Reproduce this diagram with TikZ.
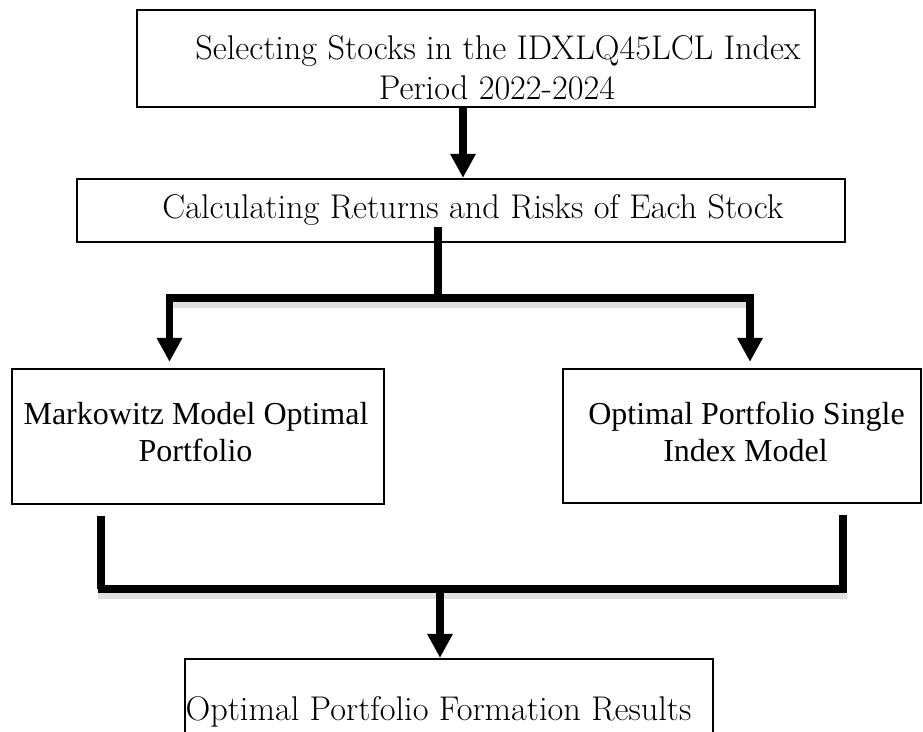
\documentclass[tikz,border=0pt]{standalone}
\usepackage{fontspec}
\newfontfamily\timesf{Liberation Serif}
\usetikzlibrary{arrows.meta}
\begin{document}
\begin{tikzpicture}[x=1pt,y=-1pt,
  box/.style={draw,line width=2.2pt,inner sep=0pt},
  pal/.style={font=\fontsize{34.3}{40}\selectfont,inner sep=0pt,anchor=base},
  tim/.style={font=\timesf\fontsize{32}{37}\selectfont,inner sep=0pt,anchor=base},
  conn/.style={line width=7.5pt},
  bar/.style={line width=8pt},
  shade/.style={line width=10pt,black!12},
  arr/.style={line width=7.5pt,-{Triangle[width=24pt,length=24pt]}}]
\useasboundingbox (0,0) rectangle (923,731);
\clip (0,0) rectangle (923,731);
% boxes
\node[box,minimum width=678pt,minimum height=97pt] (b1) at (476,58.5) {};
\node[box,minimum width=768pt,minimum height=63pt] (b2) at (461,210.5) {};
\node[box,minimum width=372pt,minimum height=135pt] (b3) at (198,436.5) {};
\node[box,minimum width=358pt,minimum height=134pt] (b4) at (742,436) {};
\node[box,minimum width=528pt,minimum height=101pt] (b5) at (449,709.5) {};
% texts
\node[pal] (t1a) at (498,59) {Selecting Stocks in the IDXLQ45LCL Index};
\node[pal] (t1b) at (497,99) {Period 2022-2024};
\node[pal] (t2) at (473,218) {Calculating Returns and Risks of Each Stock};
\node[tim] (t3a) at (196,424) {Markowitz Model Optimal};
\node[tim] (t3b) at (195.5,461) {Portfolio};
\node[tim] (t4a) at (746.5,424) {Optimal Portfolio Single};
\node[tim] (t4b) at (745.5,461) {Index Model};
\node[pal] (t5) at (438.5,720) {Optimal Portfolio Formation Results};
% junctions
\coordinate (c1) at (463,0);
\coordinate (s2) at (438,227);
\coordinate (j1) at (438,297.5);
\coordinate (jl) at (166,297.5);
\coordinate (jr) at (754,297.5);
\coordinate (al) at (169.5,297.5);
\coordinate (ar) at (750,297.5);
\coordinate (kl) at (97.5,589);
\coordinate (kr) at (846.5,589);
\coordinate (vl) at (101,589);
\coordinate (vr) at (843,589);
\coordinate (km) at (440,589);
% soft shadows under the bars
\draw[shade] ([yshift=-5pt]jl) -- ([yshift=-5pt]jr);
\draw[shade] ([yshift=-5pt]kl) -- ([yshift=-5pt]kr);
% connectors
\draw[arr] (b1.south -| c1) -- (b2.north -| c1);
\draw[conn] (s2) -- (j1);
\draw[bar] (jl) -- (jr);
\draw[arr,shorten >=6pt] (al) -- (b3.north -| al);
\draw[arr,shorten >=6pt] (ar) -- (b4.north -| ar);
\draw[conn,shorten <=11pt] (b3.south -| vl) -- (vl);
\draw[conn,shorten <=11pt] (b4.south -| vr) -- (vr);
\draw[bar] (kl) -- (kr);
\draw[arr] (km) -- (b5.north -| km);
\end{tikzpicture}
\end{document}
